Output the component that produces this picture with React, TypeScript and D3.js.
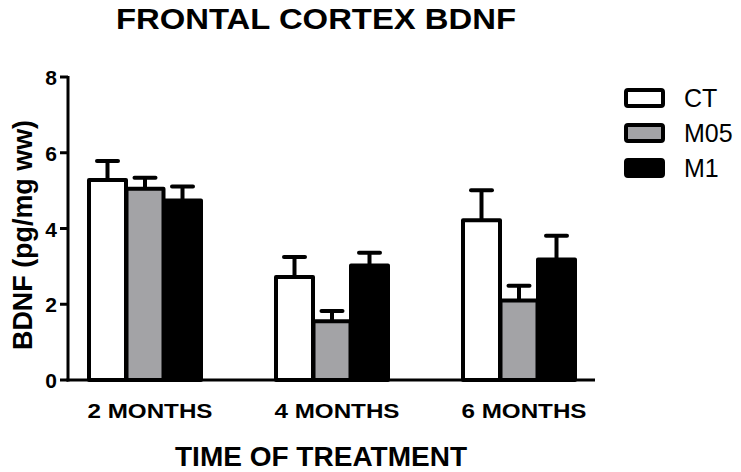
import React from "react";
import * as d3 from "d3";

const groups = ["2 MONTHS", "4 MONTHS", "6 MONTHS"];
const series = ["CT", "M05", "M1"];
const fills = ["#ffffff", "#a3a3a6", "#000000"];
const meanCT = [5.28, 2.72, 4.22];
const meanM05 = [5.05, 1.55, 2.1];
const meanM1 = [4.74, 3.02, 3.18];
const semCT = [0.5, 0.53, 0.79];
const semM05 = [0.29, 0.27, 0.39];
const semM1 = [0.37, 0.34, 0.63];
const yTicks = [0, 2, 4, 6, 8];

const means = [meanCT, meanM05, meanM1];
const sems = [semCT, semM05, semM1];

const W = 741;
const H = 472;
const FONT = "Arial, 'Liberation Sans', sans-serif";

export default function App() {
  const x0 = d3.scalePoint<string>().domain(groups).range([145, 519]);
  const x1 = d3.scalePoint<string>().domain(series).range([-37.5, 37.5]);
  const y = d3.scaleLinear().domain([0, 8]).range([380, 77]);
  const barW = 37;
  const capW = 21;

  return (
    <svg
      width={W}
      height={H}
      style={{ position: "absolute", left: 0, top: 0, background: "#fff" }}
    >
      <text
        x={316}
        y={29}
        textAnchor="middle"
        fontFamily={FONT}
        fontWeight="bold"
        fontSize={29}
        textLength={400}
        lengthAdjust="spacingAndGlyphs"
      >
        FRONTAL CORTEX BDNF
      </text>

      {groups.map((g, gi) =>
        series.map((s, si) => {
          const cx = (x0(g) as number) + (x1(s) as number);
          const m = means[si][gi];
          const e = sems[si][gi];
          return (
            <g key={g + s}>
              <line x1={cx} x2={cx} y1={y(m)} y2={y(m + e)} stroke="#000" strokeWidth={4} />
              <line
                x1={cx - capW / 2}
                x2={cx + capW / 2}
                y1={y(m + e)}
                y2={y(m + e)}
                stroke="#000"
                strokeWidth={4}
                strokeLinecap="round"
              />
              <rect
                x={cx - barW / 2}
                y={y(m)}
                width={barW}
                height={y(0) - y(m)}
                fill={fills[si]}
                stroke="#000"
                strokeWidth={4}
                strokeLinejoin="round"
              />
            </g>
          );
        })
      )}

      {/* axes */}
      <line x1={68} x2={68} y1={y(8) - 1} y2={y(0) + 1.5} stroke="#000" strokeWidth={3} />
      <line x1={66.5} x2={595} y1={y(0)} y2={y(0)} stroke="#000" strokeWidth={3} />
      {yTicks.map((t) => (
        <g key={t}>
          <line x1={60} x2={68} y1={y(t)} y2={y(t)} stroke="#000" strokeWidth={3} />
          <text x={57} y={y(t) + 8} textAnchor="end" fontFamily={FONT} fontWeight="bold" fontSize={21}>
            {t}
          </text>
        </g>
      ))}
      {groups.map((g) => (
        <text
          key={g}
          x={(x0(g) as number) + 5}
          y={418}
          textAnchor="middle"
          fontFamily={FONT}
          fontWeight="bold"
          fontSize={21}
          textLength={125}
          lengthAdjust="spacingAndGlyphs"
        >
          {g}
        </text>
      ))}
      <text
        x={321}
        y={466}
        textAnchor="middle"
        fontFamily={FONT}
        fontWeight="bold"
        fontSize={27}
        textLength={292}
        lengthAdjust="spacingAndGlyphs"
      >
        TIME OF TREATMENT
      </text>
      <text
        transform={`translate(32, ${235}) rotate(-90)`}
        textAnchor="middle"
        fontFamily={FONT}
        fontWeight="bold"
        fontSize={27}
        textLength={230}
        lengthAdjust="spacingAndGlyphs"
      >
        BDNF (pg/mg ww)
      </text>

      {/* legend */}
      {series.map((s, si) => (
        <g key={s} transform={`translate(0, ${si * 35})`}>
          <rect x={626} y={90} width={37} height={16} rx={2} fill={fills[si]} stroke="#000" strokeWidth={4} />
          <text x={684} y={107} fontFamily={FONT} fontSize={25}>
            {s}
          </text>
        </g>
      ))}
    </svg>
  );
}
